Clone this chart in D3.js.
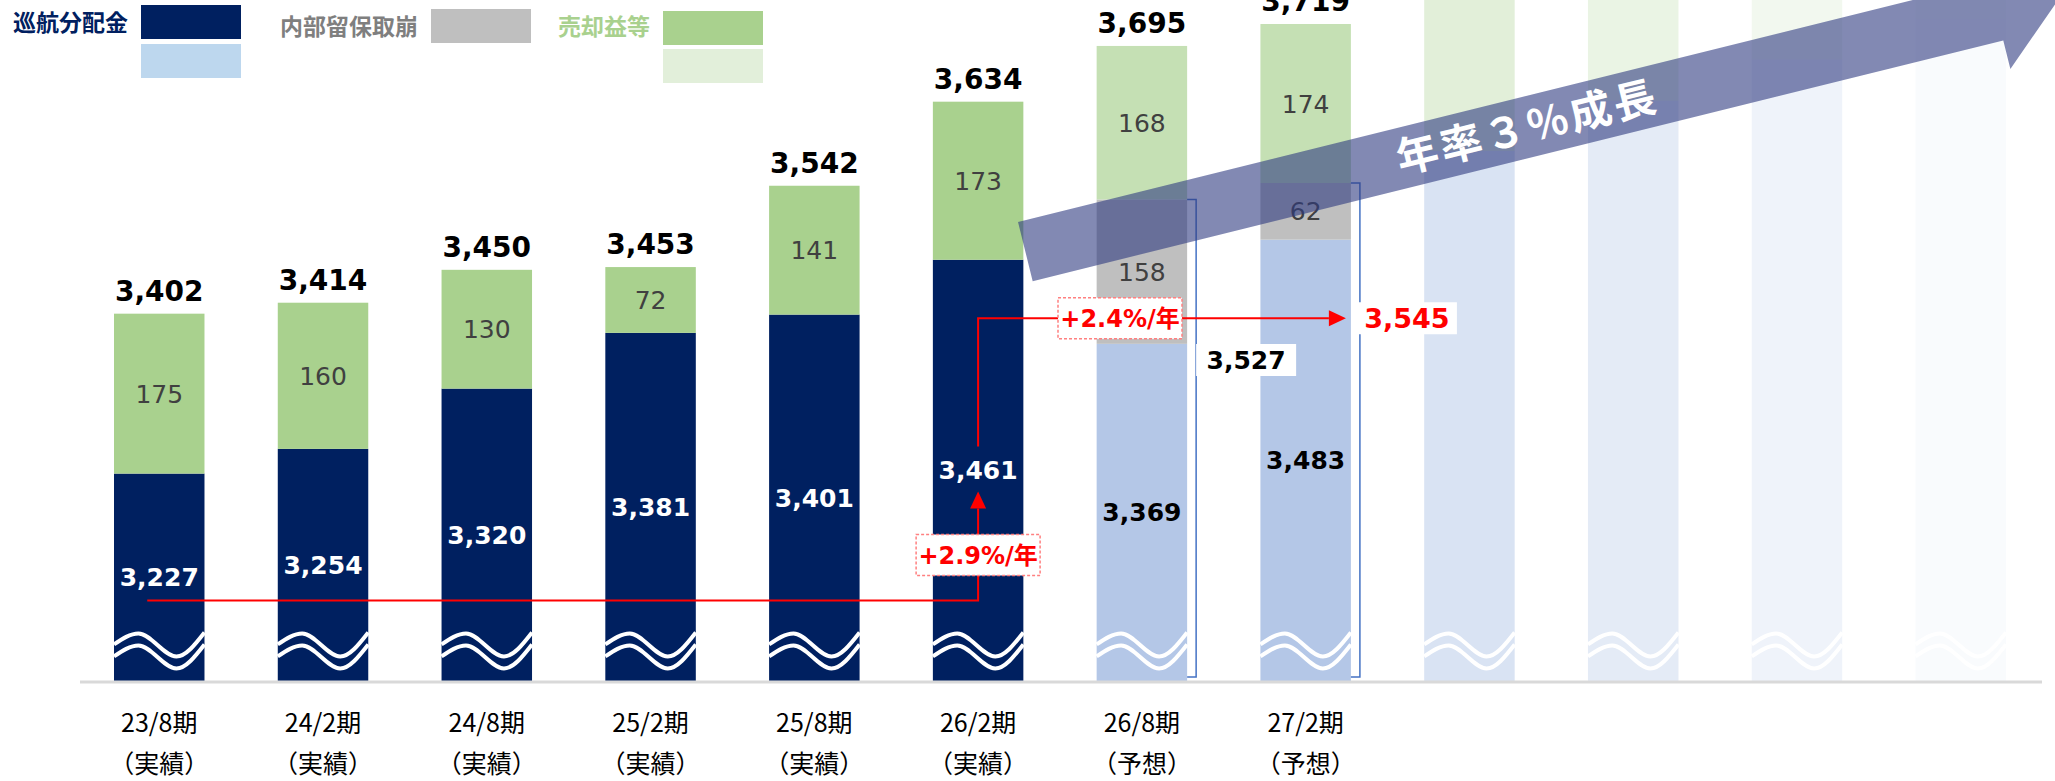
<!DOCTYPE html>
<html>
<head>
<meta charset="utf-8">
<script src="https://cdn.jsdelivr.net/npm/d3@7"></script>
<style>
body { margin: 0; background: #fff; }
svg { display: block; }
</style>
</head>
<body>
<div id="chart"></div>
<script>
// 分配金の推移 (円/口)
var periods = ["23/8期", "24/2期", "24/8期", "25/2期", "25/8期", "26/2期", "26/8期", "27/2期"];
var periodNotes = ["（実績）", "（実績）", "（実績）", "（実績）", "（実績）", "（実績）", "（予想）", "（予想）"];
var distribution = [3227, 3254, 3320, 3381, 3401, 3461, 3369, 3483];
var reserveDraw = [0, 0, 0, 0, 0, 0, 158, 62];
var saleGains = [175, 160, 130, 72, 141, 173, 168, 174];
var totals = [3402, 3414, 3450, 3453, 3542, 3634, 3695, 3719];
// faded bars after 27/2 (no labels)
var ghostSlots = ["g1", "g2", "g3", "g4"];
var ghostBase = [3580, 3635, 3680, 3725];
var ghostTop = [3780, 3800, 3820, 3840];
var legendNames = ["巡航分配金", "内部留保取崩", "売却益等"];
var growthLabels = ["+2.9%/年", "+2.4%/年"];
var bracketTotals = [3527, 3545];
var trendLabel = "年率３%成長";

var width = 2055, height = 781;
var NUM = "'DejaVu Sans', 'Noto Sans CJK JP', sans-serif";
var JP = "'Noto Sans CJK JP', sans-serif";

var svg = d3.select("#chart").append("svg")
    .attr("width", width)
    .attr("height", height);

var x = d3.scaleBand()
    .domain(periods.concat(ghostSlots))
    .range([114, 2006])
    .paddingInner(0.4475)
    .paddingOuter(0);
var y = d3.scaleLinear().domain([3000, 3800]).range([681, -50]);
var bw = x.bandwidth();

var data = periods.map(function(p, i) {
  return {period: p, note: periodNotes[i], base: distribution[i], reserve: reserveDraw[i],
          gain: saleGains[i], total: totals[i], plan: i >= 6};
});

// stacked segments
var segs = [];
data.forEach(function(d) {
  segs.push({period: d.period, y0: 3000, y1: d.base, fill: d.plan ? "#b4c7e7" : "#002060"});
  if (d.reserve) segs.push({period: d.period, y0: d.base, y1: d.base + d.reserve, fill: "#bfbfbf"});
  segs.push({period: d.period, y0: d.base + d.reserve, y1: d.total, fill: d.plan ? "#c5e0b4" : "#a9d18e"});
});
ghostSlots.forEach(function(g, i) {
  var op = 0.5 - i * 0.14;
  segs.push({period: g, y0: 3000, y1: ghostBase[i], fill: "#b4c7e7", op: op});
  segs.push({period: g, y0: ghostBase[i], y1: ghostTop[i], fill: "#c5e0b4", op: op});
});

svg.append("g").selectAll("rect")
    .data(segs)
  .enter().append("rect")
    .attr("x", function(d) { return x(d.period); })
    .attr("y", function(d) { return y(d.y1); })
    .attr("width", bw)
    .attr("height", function(d) { return y(d.y0) - y(d.y1); })
    .attr("fill", function(d) { return d.fill; })
    .attr("fill-opacity", function(d) { return d.op == null ? 1 : d.op; });

// wave (axis break) marks
var wavePts = [[0, 0], [0.27, -11], [0.69, 12], [1, -12]];
var waveLine = d3.line().curve(d3.curveMonotoneX);
var waveMid = y(3040);
x.domain().forEach(function(p) {
  [0, 12].forEach(function(off) {
    svg.append("path")
      .attr("d", waveLine(wavePts.map(function(q) { return [x(p) + q[0] * bw, waveMid + q[1] + off]; })))
      .attr("fill", "none")
      .attr("stroke", "#fff")
      .attr("stroke-width", 4);
  });
});

// baseline
svg.append("line")
    .attr("x1", 80).attr("x2", 2042)
    .attr("y1", 682).attr("y2", 682)
    .attr("stroke", "#d9d9d9")
    .attr("stroke-width", 3);

// x axis labels
var xAxis = d3.axisBottom(x)
    .tickSize(0)
    .tickPadding(0)
    .tickFormat(function(d) { return periods.indexOf(d) >= 0 ? d : ""; });
var ax = svg.append("g").attr("transform", "translate(0,682)").call(xAxis);
ax.select(".domain").remove();
ax.selectAll(".tick text")
    .attr("y", 50).attr("dy", 0)
    .attr("fill", "#000")
    .style("font-family", JP)
    .style("font-size", "25px");
ax.selectAll(".tick").each(function(d) {
  var i = periods.indexOf(d);
  if (i < 0) return;
  d3.select(this).append("text")
    .attr("y", 91)
    .attr("fill", "#000")
    .attr("text-anchor", "middle")
    .style("font-family", JP)
    .style("font-size", "25px")
    .text(periodNotes[i]);
});

var cx = function(p) { return x(p) + bw / 2; };

// segment labels
var labels = svg.append("g").attr("text-anchor", "middle").style("font-family", NUM);
data.forEach(function(d) {
  labels.append("text")
    .attr("x", cx(d.period))
    .attr("y", (y(d.base) + y(3000)) / 2)
    .attr("dy", "0.36em")
    .attr("fill", d.plan ? "#000" : "#fff")
    .style("font-weight", "bold")
    .style("font-size", "25px")
    .text(d3.format(",")(d.base));
  if (d.reserve) {
    labels.append("text")
      .attr("x", cx(d.period))
      .attr("y", (y(d.base) + y(d.base + d.reserve)) / 2)
      .attr("dy", "0.36em")
      .attr("fill", "#404040")
      .style("font-size", "25px")
      .text(d.reserve);
  }
  labels.append("text")
    .attr("x", cx(d.period))
    .attr("y", (y(d.base + d.reserve) + y(d.total)) / 2)
    .attr("dy", "0.36em")
    .attr("fill", "#404040")
    .style("font-size", "25px")
    .text(d.gain);
  labels.append("text")
    .attr("x", cx(d.period))
    .attr("y", y(d.total) - 13)
    .attr("fill", "#000")
    .style("font-weight", "bold")
    .style("font-size", "28px")
    .text(d3.format(",")(d.total));
});

// blue brackets on the forecast bars
bracketTotals.forEach(function(v, i) {
  var p = periods[6 + i], x0 = x(p) + bw, x1 = x0 + 9;
  svg.append("path")
    .attr("d", "M" + x0 + "," + y(v) + "H" + x1 + "V" + (y(3000) - 4) + "H" + x0)
    .attr("fill", "none")
    .attr("stroke", "#4472c4")
    .attr("stroke-width", 1.5);
});

// big trend arrow
var arr = svg.append("g")
    .attr("transform", "translate(" + (x(periods[5]) + bw + 2) + "," + y(3470) + ") rotate(-13.93)");
arr.append("path")
    .attr("d", "M0,-30.5H1000V-60L1068,0L1000,60V30.5H0Z")
    .attr("fill", "#2f3b80")
    .attr("fill-opacity", 0.6);
arr.append("text")
    .attr("x", 517).attr("y", 0)
    .attr("dy", "0.36em")
    .attr("text-anchor", "middle")
    .attr("fill", "#fff")
    .style("font-family", JP)
    .style("font-weight", "bold")
    .style("font-size", "42px")
    .style("letter-spacing", "3px")
    .text(trendLabel);

// red growth annotations
var red = "#ff0000";
var xa = cx(periods[0]) - 12, xb = cx(periods[5]);
var yLow = y(3088);
var labB = (y(distribution[5]) + y(3000)) / 2;
svg.append("path")
    .attr("d", "M" + xa + "," + yLow + "H" + xb + "V" + (labB + 38))
    .attr("fill", "none").attr("stroke", red).attr("stroke-width", 2);
svg.append("path")
    .attr("d", "M" + xb + "," + (labB + 21) + "l-8,17h16z")
    .attr("fill", red);

var yHi = y(3397), xEnd = x(periods[7]) + bw - 5;
svg.append("path")
    .attr("d", "M" + xb + "," + (labB - 24) + "V" + yHi + "H" + (xEnd - 17))
    .attr("fill", "none").attr("stroke", red).attr("stroke-width", 2);
svg.append("path")
    .attr("d", "M" + xEnd + "," + yHi + "l-17,-8v16z")
    .attr("fill", red);

function growthBox(cxp, cyp, txt) {
  svg.append("rect")
    .attr("x", cxp - 62).attr("y", cyp - 20.5)
    .attr("width", 124).attr("height", 41)
    .attr("fill", "#fff")
    .attr("stroke", "#ff8080")
    .attr("stroke-width", 1.5)
    .attr("stroke-dasharray", "3,2");
  svg.append("text")
    .attr("x", cxp).attr("y", cyp)
    .attr("dy", "0.36em")
    .attr("text-anchor", "middle")
    .attr("fill", red)
    .style("font-family", NUM)
    .style("font-weight", "bold")
    .style("font-size", "24px")
    .text(txt);
}
growthBox(xb, 555, growthLabels[0]);
growthBox(1120, yHi, growthLabels[1]);

// value boxes 3,527 and 3,545
function valueBox(xl, cyp, v, color, size) {
  svg.append("rect")
    .attr("x", xl).attr("y", cyp - 16)
    .attr("width", 100).attr("height", 32)
    .attr("fill", "#fff");
  svg.append("text")
    .attr("x", xl + 50).attr("y", cyp)
    .attr("dy", "0.36em")
    .attr("text-anchor", "middle")
    .attr("fill", color)
    .style("font-family", NUM)
    .style("font-weight", "bold")
    .style("font-size", size)
    .text(d3.format(",")(v));
}
valueBox(x(periods[6]) + bw + 9, 360, bracketTotals[0], "#000", "25px");
valueBox(x(periods[7]) + bw + 6, yHi, bracketTotals[1], red, "27px");

// legend
var leg = svg.append("g").style("font-family", JP).style("font-weight", "bold").style("font-size", "23px");
leg.append("text").attr("x", 13).attr("y", 31).attr("fill", "#002060").text(legendNames[0]);
leg.append("rect").attr("x", 141).attr("y", 5).attr("width", 100).attr("height", 34).attr("fill", "#002060");
leg.append("rect").attr("x", 141).attr("y", 44).attr("width", 100).attr("height", 34).attr("fill", "#bdd7ee");
leg.append("text").attr("x", 280).attr("y", 35).attr("fill", "#7f7f7f").text(legendNames[1]);
leg.append("rect").attr("x", 431).attr("y", 9).attr("width", 100).attr("height", 34).attr("fill", "#bfbfbf");
leg.append("text").attr("x", 558).attr("y", 35).attr("fill", "#a9d18e").text(legendNames[2]);
leg.append("rect").attr("x", 663).attr("y", 11).attr("width", 100).attr("height", 34).attr("fill", "#a9d18e");
leg.append("rect").attr("x", 663).attr("y", 49).attr("width", 100).attr("height", 34).attr("fill", "#e2efda");
</script>
</body>
</html>
